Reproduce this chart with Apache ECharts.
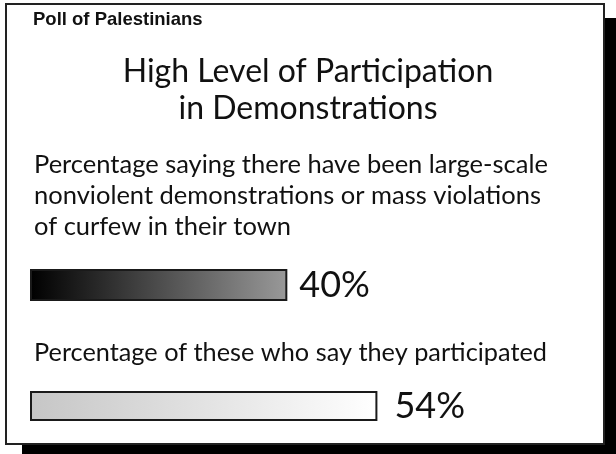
<!DOCTYPE html>
<html>
<head>
<meta charset="utf-8">
<script src="https://cdn.jsdelivr.net/npm/echarts@6/dist/echarts.min.js"></script>
<style>
html, body { margin: 0; padding: 0; background: #fff; }
#main { width: 616px; height: 454px; }
</style>
</head>
<body>
<div id="main"></div>
<script>
var kicker = 'Poll of Palestinians';
var headline = 'High Level of Participation\nin Demonstrations';
var questions = [
	'Percentage saying there have been large-scale\nnonviolent demonstrations or mass violations\nof curfew in their town',
	'Percentage of these who say they participated'
];
var categories = ['Demonstrations in town', 'Participated'];
var values = [40, 54];

var myChart = echarts.init(document.getElementById('main'));
var textFont = 'Lato';

// bar fills, left to right
var fills = [
	new echarts.graphic.LinearGradient(0, 0, 1, 0, [{offset: 0, color: '#000'}, {offset: 1, color: '#999'}]),
	new echarts.graphic.LinearGradient(0, 0, 1, 0, [{offset: 0, color: '#c6c6c6'}, {offset: 1, color: '#fff'}])
];
var labelGap = [12, 17];
var grids = [
	{left: 30, top: 269, width: 579, height: 32},
	{left: 30, top: 391, width: 579, height: 30}
];

var xAxes = [], yAxes = [], series = [];
grids.forEach(function(g, i) {
	xAxes.push({gridIndex: i, type: 'value', min: 0, max: 90, show: false});
	yAxes.push({gridIndex: i, type: 'category', data: [categories[i]], show: false});
	series.push({
		type: 'bar',
		xAxisIndex: i,
		yAxisIndex: i,
		barWidth: g.height,
		data: [values[i]],
		itemStyle: {color: fills[i], borderColor: '#1a1a1a', borderWidth: 2},
		label: {
			show: true,
			position: 'right',
			distance: labelGap[i],
			formatter: '{c}%',
			fontFamily: textFont,
			fontSize: 36,
			color: '#111'
		}
	});
});

var option = {
	animation: false,
	graphic: [
		{type: 'rect', z: -10, silent: true, shape: {x: 22, y: 18, width: 594, height: 436}, style: {fill: '#000'}},
		{type: 'rect', z: -9, silent: true, shape: {x: 6, y: 4, width: 598, height: 440}, style: {fill: '#fff', stroke: '#222', lineWidth: 2}}
	],
	title: [
		{text: kicker, left: 33, top: 10, padding: 0,
			textStyle: {fontFamily: 'Liberation Sans', fontWeight: 'bold', fontSize: 18.5, color: '#111'}},
		{text: headline, left: 'center', top: 53, padding: 0,
			textStyle: {fontFamily: textFont, fontWeight: 'normal', fontSize: 32, lineHeight: 37, color: '#111'}},
		{text: questions[0], left: 34, top: 149, padding: 0,
			textStyle: {fontFamily: textFont, fontWeight: 'normal', fontSize: 25.5, lineHeight: 31, color: '#111'}},
		{text: questions[1], left: 34, top: 337, padding: 0,
			textStyle: {fontFamily: textFont, fontWeight: 'normal', fontSize: 25.3, lineHeight: 31, color: '#111'}}
	],
	grid: grids,
	xAxis: xAxes,
	yAxis: yAxes,
	series: series
};
myChart.setOption(option);
</script>
</body>
</html>
